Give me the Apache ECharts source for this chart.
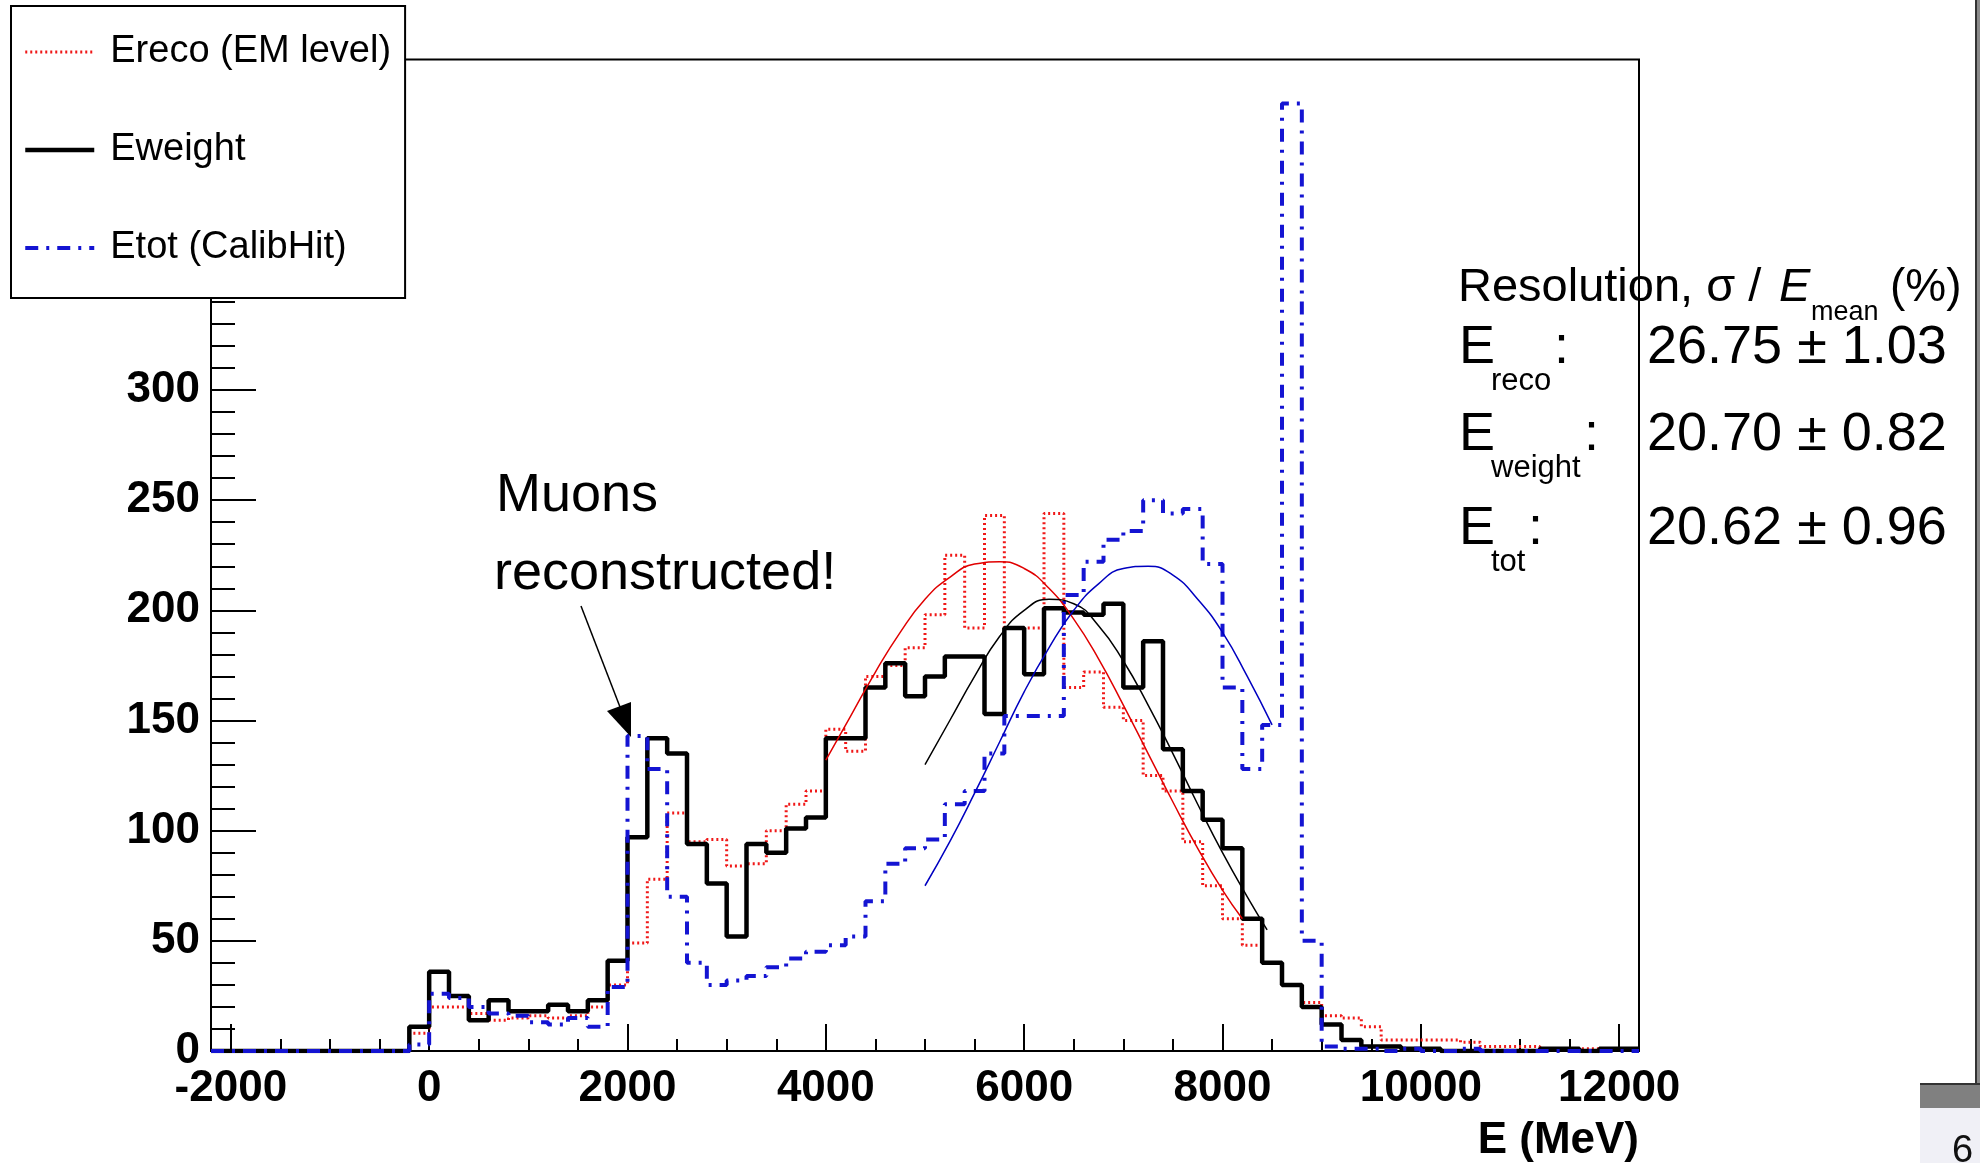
<!DOCTYPE html>
<html><head><meta charset="utf-8">
<script src="https://cdn.jsdelivr.net/npm/echarts@6/dist/echarts.min.js"></script>
<style>html,body{margin:0;padding:0;background:#fff;}#c{width:1980px;height:1163px;}</style>
</head><body><div id="c"></div>
<script>
// ---- data ----
const binStart = -2200, binWidth = 200;
const eReco = [0,0,0,0,0,0,0,0,0,0, 8,20,20,17,14,15,16,15,16,20, 30,49,78,108,95,96,84,85,100,112, 118,146,136,170,175,183,198,225,192,243, 192,192,244,165,172,156,150,125,118,95, 75,60,48,40,30,22,16,15,11,5, 5,5,5,4,2,2,2,1,1,1, 1,1];
const eWeight = [0,0,0,0,0,0,0,0,0,0, 11,36,25,14,23,18,18,21,18,23, 41,97,142,135,94,76,52,94,90,101, 106,142,142,165,176,161,170,179,179,153, 192,171,201,199,198,203,165,186,137,118, 105,92,60,40,30,20,12,5,2,2, 1,1,0,0,0,0,0,1,1,0, 1,1];
const eTot = [0,0,0,0,0,0,0,0,0,0, 3,26,24,20,17,16,13,12,15,11, 29,143,128,70,40,30,32,34,38,42, 45,48,52,68,85,92,96,112,118,135, 152,152,152,207,222,232,236,250,244,246, 221,165,128,148,430,50,2,1,1,0, 1,0,0,1,0,0,0,0,0,0, 0,0];
const fitRecoE = [4000,4250,4500,4750,5000,5250,5500,5750,6000,6250,6500,6750,7000,7250,7500,7750,8000,8200];
const fitRecoN = [132,152,172,190,205,215,221,222,219,210,196,178,157,135,113,92,73,60];
const fitWeightE = [5000,5250,5500,5750,6000,6250,6500,6750,7000,7250,7500,7750,8000,8250,8450];
const fitWeightN = [130,150,170,188,200,205,203,193,177,157,135,112,90,70,55];
const fitTotE = [5000,5250,5500,5750,6000,6250,6500,6750,7000,7250,7500,7750,8000,8250,8500];
const fitTotN = [75,95,117,140,163,183,200,212,219,220,216,205,190,170,148];
const xMajorTicks = [-2000,0,2000,4000,6000,8000,10000,12000];
const xMinorTicks = [-1500,-1000,-500,500,1000,1500,2500,3000,3500,4500,5000,5500,6500,7000,7500,8500,9000,9500,10500,11000,11500];
const yLabelTicks = [0,50,100,150,200,250,300];
const seriesNames = ['Ereco (EM level)','Eweight','Etot (CalibHit)'];
const resLabels = ['reco','weight','tot'];
const resValues = ['26.75 \u00b1 1.03','20.70 \u00b1 0.82','20.62 \u00b1 0.96'];

// ---- helpers ----
function steps(vals){
  const d = [];
  for (let i = 0; i < vals.length; i++) d.push([binStart + i*binWidth, vals[i]]);
  d.push([binStart + vals.length*binWidth, vals[vals.length-1]]);
  return d;
}
function pairs(xs, ys){ return xs.map((x,i)=>[x, ys[i]]); }

const FF = '"Liberation Sans", Arial, Helvetica, sans-serif';
const chart = echarts.init(document.getElementById('c'), null, {renderer:'canvas'});

const rowCap = [348, 435, 529];
const colonX = [1554, 1584, 1528];
const gfx = [];
// stats title
gfx.push({type:'text', z:100, style:{text:'Resolution, \u03c3 / ', x:1458, y:288, font:'47px '+FF, fill:'#000', verticalAlign:'middle'}});
gfx.push({type:'text', z:100, style:{text:'E', x:1779, y:288, font:'italic 47px '+FF, fill:'#000', verticalAlign:'middle'}});
gfx.push({type:'text', z:100, style:{text:'mean', x:1811, y:313, font:'27px '+FF, fill:'#000', verticalAlign:'middle'}});
gfx.push({type:'text', z:100, style:{text:'(%)', x:1890, y:288, font:'46px '+FF, fill:'#000', verticalAlign:'middle'}});
for (let i = 0; i < 3; i++) {
  gfx.push({type:'text', z:100, style:{text:'E', x:1459, y:rowCap[i], font:'54px '+FF, fill:'#000', verticalAlign:'middle'}});
  gfx.push({type:'text', z:100, style:{text:resLabels[i], x:1491, y:rowCap[i]+33, font:'31px '+FF, fill:'#000', verticalAlign:'middle'}});
  gfx.push({type:'text', z:100, style:{text:':', x:colonX[i], y:rowCap[i], font:'54px '+FF, fill:'#000', verticalAlign:'middle'}});
  gfx.push({type:'text', z:100, style:{text:resValues[i], x:1647, y:rowCap[i], font:'54px '+FF, fill:'#000', verticalAlign:'middle'}});
}
// muons annotation
gfx.push({type:'text', z:100, style:{text:'Muons', x:496, y:496, font:'54px '+FF, fill:'#000', verticalAlign:'middle'}});
gfx.push({type:'text', z:100, style:{text:'reconstructed!', x:494, y:574, font:'54px '+FF, fill:'#000', verticalAlign:'middle'}});
gfx.push({type:'line', z:100, shape:{x1:581, y1:606, x2:620, y2:707}, style:{stroke:'#000', lineWidth:1.5}});
gfx.push({type:'polygon', z:100, shape:{points:[[631,737],[607,711],[631,702]]}, style:{fill:'#000'}});
// slide decoration at right
gfx.push({type:'rect', z:100, shape:{x:1975, y:0, width:5, height:1084}, style:{fill:'#8a8a8a'}});
gfx.push({type:'line', z:100, shape:{x1:1976, y1:0, x2:1976, y2:1084}, style:{stroke:'#333', lineWidth:2}});
gfx.push({type:'line', z:100, shape:{x1:1920, y1:1084, x2:1980, y2:1084}, style:{stroke:'#333', lineWidth:2}});
gfx.push({type:'rect', z:100, shape:{x:1920, y:1085, width:60, height:23}, style:{fill:'#808080'}});
gfx.push({type:'rect', z:100, shape:{x:1920, y:1108, width:60, height:55}, style:{fill:'#f0f0f6'}});
gfx.push({type:'text', z:101, style:{text:'6', x:1952, y:1152, font:'38px '+FF, fill:'#111', verticalAlign:'middle'}});

const labelFmt = v => String(v);
const option = {
  backgroundColor:'#fff',
  animation:false,
  grid:{left:211, right:341, top:59.5, bottom:109.5, show:true, borderColor:'#000', borderWidth:2, backgroundColor:'#fff'},
  legend:{
    data:seriesNames, orient:'vertical', left:11, top:6,
    padding:[26,14,30,12], itemGap:58, itemWidth:69, itemHeight:20,
    backgroundColor:'#fff', borderColor:'#000', borderWidth:2, borderRadius:0,
    textStyle:{fontSize:38, fontFamily:FF, color:'#000', lineHeight:40, padding:[0,0,0,11]},
    lineStyle:{width:'inherit'},
    itemStyle:{opacity:0, color:'rgba(0,0,0,0)', borderWidth:0},
    selectedMode:false, z:50
  },
  xAxis:[{
    type:'value', min:-2200, max:12200,
    name:'E (MeV)', nameLocation:'end', nameGap:0,
    nameTextStyle:{fontSize:44, fontWeight:'bold', fontFamily:FF, color:'#000', align:'right', verticalAlign:'top', padding:[68,0,0,0]},
    axisLine:{show:true, onZero:false, lineStyle:{color:'#000', width:2}},
    axisTick:{show:true, inside:true, length:27, lineStyle:{color:'#000', width:2}, customValues:xMajorTicks},
    axisLabel:{show:true, margin:16, fontSize:44, fontWeight:'bold', fontFamily:FF, color:'#000', customValues:xMajorTicks, formatter:labelFmt},
    splitLine:{show:false}
  },{
    type:'value', min:-2200, max:12200, position:'bottom',
    axisLine:{show:false, onZero:false},
    axisTick:{show:true, inside:true, length:12, lineStyle:{color:'#000', width:2}, customValues:xMinorTicks},
    axisLabel:{show:false},
    splitLine:{show:false}
  }],
  yAxis:{
    type:'value', min:0, max:450, interval:50, position:'left',
    axisLine:{show:true, onZero:false, lineStyle:{color:'#000', width:2}},
    axisTick:{show:true, inside:true, length:45, lineStyle:{color:'#000', width:2}},
    minorTick:{show:true, splitNumber:5, length:24, lineStyle:{color:'#000', width:2}},
    axisLabel:{show:true, margin:11, fontSize:44, fontWeight:'bold', fontFamily:FF, color:'#000', customValues:yLabelTicks, formatter:labelFmt},
    splitLine:{show:false}, minorSplitLine:{show:false}
  },
  series:[
    {name:seriesNames[0], type:'line', step:'end', data:steps(eReco), symbol:'none', z:3,
     lineStyle:{color:'#f01818', width:3, type:[2,3]}, itemStyle:{color:'#f01818'}},
    {name:seriesNames[1], type:'line', step:'end', data:steps(eWeight), symbol:'none', z:4,
     lineStyle:{color:'#000', width:4.5, type:'solid'}, itemStyle:{color:'#000'}},
    {name:seriesNames[2], type:'line', step:'end', data:steps(eTot), symbol:'none', z:5,
     lineStyle:{color:'#1414d2', width:4, type:[13,8,3,8]}, itemStyle:{color:'#1414d2'}},
    {name:'fitReco', type:'line', smooth:true, data:pairs(fitRecoE, fitRecoN), symbol:'none', z:6,
     lineStyle:{color:'#e00000', width:1.5}},
    {name:'fitWeight', type:'line', smooth:true, data:pairs(fitWeightE, fitWeightN), symbol:'none', z:6,
     lineStyle:{color:'#000', width:1.5}},
    {name:'fitTot', type:'line', smooth:true, data:pairs(fitTotE, fitTotN), symbol:'none', z:6,
     lineStyle:{color:'#0000c0', width:1.5}}
  ],
  graphic:gfx
};
chart.setOption(option);
</script></body></html>
